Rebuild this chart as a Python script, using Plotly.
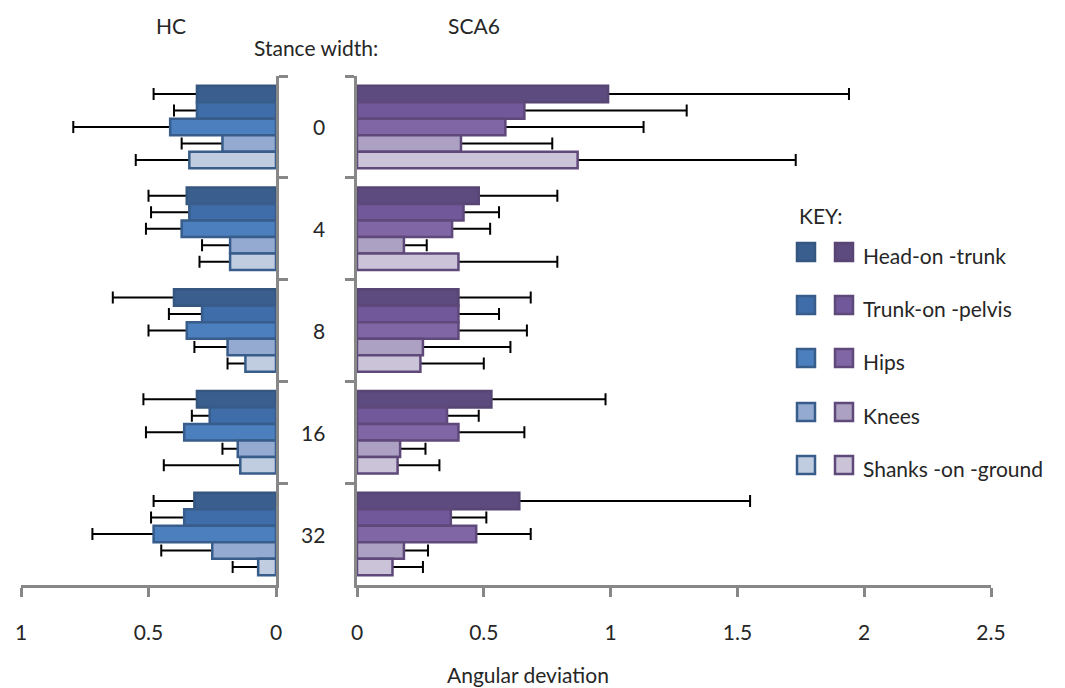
import plotly.graph_objects as go

# ---------------- data ----------------
stance = ["0", "4", "8", "16", "32"]
series = ["Head-on -trunk", "Trunk-on -pelvis", "Hips", "Knees", "Shanks -on -ground"]

hc_head = [0.31, 0.35, 0.40, 0.31, 0.32]
hc_head_err = [0.17, 0.15, 0.24, 0.21, 0.16]
hc_trunk = [0.31, 0.34, 0.29, 0.26, 0.36]
hc_trunk_err = [0.09, 0.15, 0.13, 0.07, 0.13]
hc_hips = [0.415, 0.37, 0.35, 0.36, 0.48]
hc_hips_err = [0.38, 0.14, 0.15, 0.15, 0.24]
hc_knees = [0.21, 0.18, 0.19, 0.15, 0.25]
hc_knees_err = [0.16, 0.11, 0.13, 0.06, 0.20]
hc_shanks = [0.34, 0.18, 0.12, 0.14, 0.07]
hc_shanks_err = [0.21, 0.12, 0.07, 0.30, 0.10]

sca_head = [0.99, 0.48, 0.40, 0.53, 0.64]
sca_head_err = [0.95, 0.31, 0.285, 0.45, 0.91]
sca_trunk = [0.66, 0.42, 0.40, 0.355, 0.37]
sca_trunk_err = [0.64, 0.14, 0.16, 0.125, 0.14]
sca_hips = [0.585, 0.375, 0.40, 0.40, 0.47]
sca_hips_err = [0.545, 0.15, 0.27, 0.26, 0.215]
sca_knees = [0.41, 0.185, 0.26, 0.17, 0.185]
sca_knees_err = [0.36, 0.09, 0.345, 0.10, 0.095]
sca_shanks = [0.87, 0.40, 0.25, 0.16, 0.14]
sca_shanks_err = [0.86, 0.39, 0.25, 0.165, 0.12]

hc_vals = [hc_head, hc_trunk, hc_hips, hc_knees, hc_shanks]
hc_errs = [hc_head_err, hc_trunk_err, hc_hips_err, hc_knees_err, hc_shanks_err]
sca_vals = [sca_head, sca_trunk, sca_hips, sca_knees, sca_shanks]
sca_errs = [sca_head_err, sca_trunk_err, sca_hips_err, sca_knees_err, sca_shanks_err]

# ---------------- styles ----------------
hc_fill = ["#3A5F8F", "#3F6DA9", "#4B7FBE", "#95AAD0", "#C0CCE0"]
hc_line = ["#34567F", "#385D8A", "#385D8A", "#385D8A", "#385D8A"]
sca_fill = ["#5D4A7E", "#70589A", "#8166A6", "#ACA0C3", "#CBC4D9"]
sca_line = ["#574573", "#5F497A", "#5F497A", "#5F497A", "#5F497A"]

FONT = "Lato"
FS = 21
TXT = "#262626"
AX = "#878787"

W, H = 1065, 688
def px(x):
    return x / W
def py(y):
    return 1 - y / H

fig = go.Figure()

panels = [
    (hc_vals, hc_errs, hc_fill, hc_line, "x", "y"),
    (sca_vals, sca_errs, sca_fill, sca_line, "x2", "y2"),
]
for vals, errs, fills, lines, xa, ya in panels:
    # error-bar carriers (drawn first, real bars cover the inner part)
    for i in range(len(series)):
        fig.add_trace(go.Bar(
            y=stance, x=vals[i], orientation="h", xaxis=xa, yaxis=ya,
            offsetgroup=str(i), showlegend=False, hoverinfo="skip",
            marker=dict(color="rgba(0,0,0,0)", line=dict(width=0)),
            error_x=dict(type="data", symmetric=False, array=errs[i],
                         arrayminus=vals[i], color="black", thickness=2, width=6),
        ))
    for i in range(len(series)):
        fig.add_trace(go.Bar(
            y=stance, x=vals[i], orientation="h", xaxis=xa, yaxis=ya,
            offsetgroup=str(i), name=series[i], showlegend=False,
            marker=dict(color=fills[i], line=dict(color=lines[i], width=2.5)),
        ))

ydom = [py(585), py(76)]
ncat = len(stance)
yrange = [ncat - 0.5, -0.5]
axis_common = dict(showline=True, linecolor=AX, linewidth=3, ticks="outside",
                   tickcolor=AX, tickwidth=3, ticklen=9, showgrid=False,
                   zeroline=False, automargin=False,
                   tickfont=dict(family=FONT, size=FS, color=TXT))

fig.update_layout(
    template="none",
    width=W, height=H, margin=dict(l=0, r=0, t=0, b=0, pad=0),
    paper_bgcolor="white", plot_bgcolor="white",
    barmode="group", bargap=0.19, bargroupgap=0,
    showlegend=False,
    xaxis=dict(domain=[px(21), px(276)], range=[1, 0], tickvals=[0, 0.5, 1],
               ticktext=["0", "0.5", "1"], anchor="y", ticklabelstandoff=18,
               **axis_common),
    yaxis=dict(domain=ydom, anchor="x", side="right", range=yrange,
               type="category", tickson="boundaries", showticklabels=False,
               **axis_common),
    xaxis2=dict(domain=[px(357), px(991)], range=[0, 2.5], tickvals=[0, 0.5, 1, 1.5, 2, 2.5],
                ticktext=["0", "0.5", "1", "1.5", "2", "2.5"], anchor="y2",
                ticklabelstandoff=18, **axis_common),
    yaxis2=dict(domain=ydom, anchor="x2", side="left", range=yrange,
                type="category", tickson="boundaries", showticklabels=False,
                **axis_common),
)

ann = []
def text(x, y, s, xanchor="center", yref="paper", yv=None):
    ann.append(dict(x=px(x), xref="paper", y=(py(y) if yv is None else yv), yref=yref,
                    text=s, showarrow=False, xanchor=xanchor, yanchor="middle",
                    font=dict(family=FONT, size=FS, color=TXT)))

text(171, 26, "HC")
text(474, 26, "SCA6")
text(316, 47, "Stance width:")
text(528, 674, "Angular deviation")
text(797, 215, "KEY:", xanchor="left")
for k, s in enumerate(stance):
    text(327, None, s, xanchor="right", yref="y2", yv=k)

# key swatches
rows = [252, 305, 358, 412, 465]
shapes = []
for i, name in enumerate(series):
    yc = rows[i]
    for x0, fills, lines in [(797, hc_fill, hc_line), (835, sca_fill, sca_line)]:
        shapes.append(dict(type="rect", xref="paper", yref="paper",
                           x0=px(x0), x1=px(x0 + 18), y0=py(yc + 9), y1=py(yc - 9),
                           fillcolor=fills[i], line=dict(color=lines[i], width=2.5)))
    text(861, yc + 3, name, xanchor="left")

fig.update_layout(annotations=ann, shapes=shapes)
fig.write_html("out.html", config={"displayModeBar": False},
               post_script="document.body.style.margin='0px';document.body.style.overflow='hidden';")
